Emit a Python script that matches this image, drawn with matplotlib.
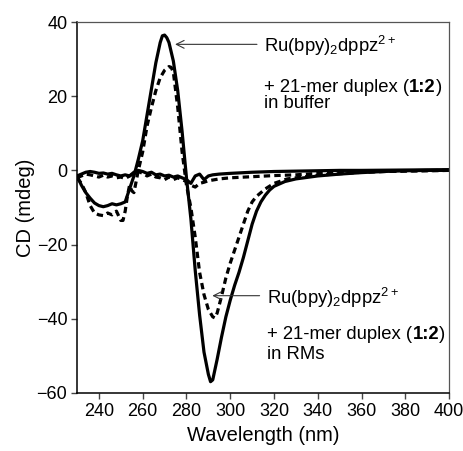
import matplotlib
matplotlib.use("Agg")
import matplotlib.pyplot as plt

plt.rcParams['font.family'] = ['Liberation Sans', 'DejaVu Sans']
plt.rcParams['mathtext.fontset'] = 'custom'
plt.rcParams['mathtext.rm'] = 'Liberation Sans'
plt.rcParams['mathtext.it'] = 'Liberation Sans'
plt.rcParams['mathtext.bf'] = 'Liberation Sans:bold'

# ---- data ----
wl_buffer = [230, 232, 234, 236, 238, 240, 242, 244, 246, 248, 250, 252, 254, 256, 258,
             260, 262, 264, 266, 268, 269, 270, 271, 272, 274, 276, 278, 280, 282, 284,
             286, 288, 290, 291, 292, 294, 296, 298, 300, 302, 304, 306, 308, 310, 312,
             314, 316, 318, 320, 325, 330, 340, 350, 360, 370, 380, 390, 400]
cd_buffer = [-1.5, -4, -6, -7.5, -8.8, -9.5, -9.8, -9.5, -9.0, -9.3, -9.0, -8.5, -5, -1.5, 3,
             8, 15, 22, 29, 34.5, 36.3, 36.5, 35.8, 34.5, 29.5, 21.5, 10.5, -2, -13, -27,
             -39, -49, -55, -57, -56.5, -51, -45, -39.5, -35, -31, -27.5, -23.5, -19, -14.5, -11,
             -8.5, -6.7, -5.3, -4.3, -3, -2.3, -1.5, -1, -0.6, -0.3, -0.1, 0, 0]

wl_rm = [230, 232, 234, 236, 238, 240, 242, 244, 246, 248, 250, 251, 252, 253, 254,
         255, 256, 257, 258, 260, 262, 264, 266, 268, 270, 272, 273, 274, 276, 278,
         280, 282, 284, 286, 288, 290, 292, 293, 294, 296, 298, 300, 302, 304, 306,
         308, 310, 312, 314, 316, 320, 326, 330, 340, 350, 360, 370, 380, 400]
cd_rm = [-2, -3.5, -6, -9.5, -11.5, -12, -12.2, -11.5, -12, -11, -13.5, -13.5, -11, -7, -4,
         -5.5, -6, -3, 0, 5, 12, 17, 21.5, 25, 27, 28, 27.8, 26.5, 17, 5,
         -4, -10, -18, -27.5, -33.5, -37.5, -39.5, -39.8, -38.5, -34, -29, -25, -21.5, -18, -14.5,
         -11, -8.5, -7, -6, -5, -3.5, -2.3, -2, -1.3, -0.9, -0.5, -0.3, -0.1, 0]

wl_base = [230, 232, 234, 236, 238, 240, 242, 244, 246, 248, 250, 252, 254, 256, 258,
           260, 262, 264, 266, 268, 270, 272, 274, 276, 278, 280, 282, 284, 286, 288,
           290, 292, 295, 300, 310, 320, 330, 340, 350, 360, 380, 400]
cd_base_solid = [-1.5, -1, -0.5, -0.3, -0.5, -0.8, -0.7, -1, -0.8, -1.2, -1.5, -1.2, -1.5, -0.5, 0,
                 -0.3, -0.8, -0.5, -1.2, -1, -1.5, -1.3, -1.8, -1.5, -2, -2.5, -3.5, -1.5, -1, -2.5,
                 -1.5, -1.2, -1.0, -0.8, -0.5, -0.3, -0.2, -0.1, 0, 0, 0.1, 0.2]
cd_base_dashed = [-2, -1.5, -1, -1.2, -1.5, -1.8, -1.3, -1.8, -1.5, -2, -1.8, -2.2, -1.5, -0.8, -0.3,
                  -0.8, -1.5, -1, -1.8, -2, -2.5, -1.8, -2.5, -2, -2.5, -3, -4, -4.5, -3.5, -3.2,
                  -2.8, -2.6, -2.3, -2, -1.7, -1.4, -1.2, -0.8, -0.6, -0.4, -0.2, 0]

x_ticks = [240, 260, 280, 300, 320, 340, 360, 380, 400]
y_ticks = [-60, -40, -20, 0, 20, 40]

fig = plt.figure(figsize=(4.64, 4.51), dpi=100)
ax = fig.add_axes([0.166, 0.129, 0.802, 0.822])

lw = 2.3
ax.plot(wl_base, cd_base_solid, color='black', lw=lw, solid_capstyle='round')
ax.plot(wl_base, cd_base_dashed, color='black', lw=lw, ls=(0, (2, 1.3)))
ax.plot(wl_buffer, cd_buffer, color='black', lw=lw, solid_joinstyle='round')
ax.plot(wl_rm, cd_rm, color='black', lw=lw, ls=(0, (2, 1.3)))

ax.set_xlim(230, 400)
ax.set_ylim(-60, 40)
ax.set_xticks(x_ticks)
ax.set_yticks(y_ticks)
ax.tick_params(direction='out', length=4, width=1, labelsize=13, pad=3,
               top=False, right=False, color='#444444')
for s in ['top', 'right']:
    ax.spines[s].set_color('#555555')
    ax.spines[s].set_linewidth(0.9)
for s in ['left', 'bottom']:
    ax.spines[s].set_color('black')
    ax.spines[s].set_linewidth(1.1)

ax.set_xlabel('Wavelength (nm)', fontsize=14.5, labelpad=5)
ax.set_ylabel('CD (mdeg)', fontsize=14.5, labelpad=1)

fs = 13.3
arrow_kw = dict(arrowstyle='->', color='#333333', lw=0.8, mutation_scale=14, shrinkA=0, shrinkB=0)

# upper annotation (buffer)
ax.annotate('', xy=(274.8, 34.0), xytext=(312.2, 34.0), arrowprops=arrow_kw)
ax.text(315.3, 32.0, r'Ru(bpy)$_2$dppz$^{2+}$', fontsize=fs, va='baseline', ha='left')
t1 = ax.text(315.3, 21.2, '+ 21-mer duplex (', fontsize=fs, va='baseline', ha='left')
b1 = ax.annotate('1:2', xy=(1, 0), xycoords=t1, va='bottom', ha='left', fontsize=fs, weight='bold')
ax.annotate(')', xy=(1, 0), xycoords=b1, va='bottom', ha='left', fontsize=fs)
ax.text(315.3, 16.8, 'in buffer', fontsize=fs, va='baseline', ha='left')

# lower annotation (RMs)
ax.annotate('', xy=(291.8, -33.8), xytext=(313.4, -33.8), arrowprops=arrow_kw)
ax.text(317.0, -36.1, r'Ru(bpy)$_2$dppz$^{2+}$', fontsize=fs, va='baseline', ha='left')
t2 = ax.text(317.0, -45.4, '+ 21-mer duplex (', fontsize=fs, va='baseline', ha='left')
b2 = ax.annotate('1:2', xy=(1, 0), xycoords=t2, va='bottom', ha='left', fontsize=fs, weight='bold')
ax.annotate(')', xy=(1, 0), xycoords=b2, va='bottom', ha='left', fontsize=fs)
ax.text(317.0, -50.8, 'in RMs', fontsize=fs, va='baseline', ha='left')

fig.savefig('out.png', dpi=100)
